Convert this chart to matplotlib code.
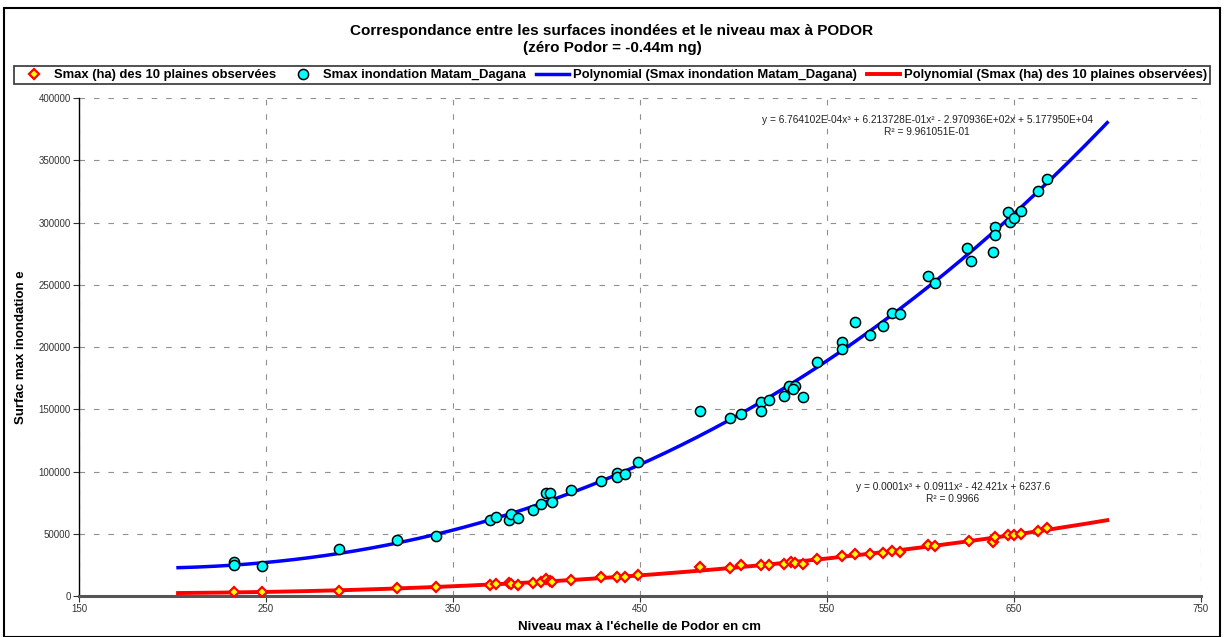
import numpy as np
import matplotlib
matplotlib.use('Agg')
import matplotlib.pyplot as plt
from matplotlib.patches import Rectangle

plt.rcParams['font.family'] = ['Liberation Sans', 'DejaVu Sans']

# Smax inondation Matam_Dagana (cyan points)
niveau_md = [233, 233, 248, 289, 320, 341, 370, 373, 380, 381, 385, 393, 397, 400,
             402, 403, 413, 429, 438, 438, 442, 449, 482, 498, 504, 515, 515, 519,
             527, 530, 533, 532, 537, 545, 558, 558, 565, 573, 580, 585, 589, 604,
             608, 625, 627, 639, 640, 640, 647, 648, 650, 654, 663, 668]
smax_md = [26900, 25000, 24200, 37600, 45000, 48000, 60900, 63600, 61200, 65700,
           62500, 69400, 73700, 82500, 82500, 75300, 84800, 92300, 99200, 95800,
           97900, 107400, 148600, 142800, 146300, 155800, 148600, 157700, 160600,
           168600, 168600, 166400, 160100, 187700, 204200, 198100, 220400, 210000,
           217000, 227000, 226200, 257300, 251500, 279700, 269000, 276000, 296400,
           290300, 308700, 300200, 303900, 309200, 325400, 334700]

# Smax (ha) des 10 plaines observees (red diamonds)
niveau_pl = [233, 248, 289, 320, 341, 370, 373, 380, 381, 385, 393, 397, 400, 402,
             403, 413, 429, 438, 442, 449, 482, 498, 504, 515, 519, 527, 531, 533,
             537, 545, 558, 565, 573, 580, 585, 589, 604, 608, 626, 639, 640, 647,
             650, 654, 663, 668]
smax_pl = [3000, 3200, 4300, 6700, 7300, 9100, 9700, 10100, 9600, 8900, 10100, 10900,
           13300, 11700, 11000, 12800, 15200, 15200, 14900, 16800, 23000, 22400, 25000,
           24800, 25000, 25600, 26900, 26400, 25600, 30100, 32200, 34000, 33600, 34800,
           36200, 35600, 41200, 40400, 44200, 43600, 47600, 49200, 48700, 49800, 52400,
           54300]

# coefficients printed on the chart for the Matam_Dagana trendline
coef_md = [6.764102E-04, 6.213728E-01, -2.970936E+02, 5.177950E+04]
eq_md = 'y = 6.764102E-04x\u00b3 + 6.213728E-01x\u00b2 - 2.970936E+02x + 5.177950E+04'
r2_md = 'R\u00b2 = 9.961051E-01'
eq_pl = 'y = 0.0001x\u00b3 + 0.0911x\u00b2 - 42.421x + 6237.6'
r2_pl = 'R\u00b2 = 0.9966'

fig = plt.figure(figsize=(12.24, 6.37), dpi=100)
fig.patches.append(Rectangle((0.003, 0.0), 0.994, 0.988, transform=fig.transFigure,
                             fill=False, edgecolor='black', linewidth=1.5))
ax = fig.add_axes([0.0645, 0.0644, 0.9165, 0.7816])

xs = np.linspace(203, 700, 300)
coef_pl = np.polyfit(niveau_pl, smax_pl, 3)

l_md, = ax.plot(xs, np.polyval(coef_md, xs), color='#0000FF', linewidth=2.5, zorder=3,
                label='Polynomial (Smax inondation Matam_Dagana)')
l_pl, = ax.plot(xs, np.polyval(coef_pl, xs), color='#FF0000', linewidth=2.8, zorder=3,
                label='Polynomial (Smax (ha) des 10 plaines observées)')
p_pl, = ax.plot(niveau_pl, smax_pl, linestyle='none', marker='D', markersize=5.5,
                markerfacecolor='#FFFF00', markeredgecolor='#FF0000', markeredgewidth=1.6,
                zorder=4, label='Smax (ha) des 10 plaines observées')
p_md, = ax.plot(niveau_md, smax_md, linestyle='none', marker='o', markersize=7.3,
                markerfacecolor='#00FFFF', markeredgecolor='black', markeredgewidth=1.1,
                zorder=5, label='Smax inondation Matam_Dagana')

ax.set_xlim(150, 750)
ax.set_ylim(0, 400000)
ax.set_xticks(range(150, 751, 100))
ax.set_yticks(range(0, 400001, 50000))
ax.grid(True, linestyle=(0, (5, 8)), color='#909090', linewidth=0.8)
ax.set_axisbelow(True)
for s in ['top', 'right']:
    ax.spines[s].set_visible(False)
ax.spines['left'].set_color('black')
ax.spines['left'].set_linewidth(1.0)
ax.spines['bottom'].set_color('#555555')
ax.spines['bottom'].set_linewidth(2.2)
ax.tick_params(labelsize=7, colors='#333333', length=4, direction='out', pad=2)

ax.set_xlabel("Niveau max à l'échelle de Podor en cm", fontsize=9.5, fontweight='bold', labelpad=5)
ax.set_ylabel('Surfac max inondation e', fontsize=9.5, fontweight='bold', labelpad=8)

ax.text(0.756, 0.956, eq_md, transform=ax.transAxes, ha='center', va='center', fontsize=7.3, color='#222222')
ax.text(0.756, 0.932, r2_md, transform=ax.transAxes, ha='center', va='center', fontsize=7.3, color='#222222')
ax.text(0.779, 0.219, eq_pl, transform=ax.transAxes, ha='center', va='center', fontsize=7.3, color='#222222')
ax.text(0.779, 0.195, r2_pl, transform=ax.transAxes, ha='center', va='center', fontsize=7.3, color='#222222')

fig.text(0.5, 0.951, 'Correspondance entre les surfaces inondées et le niveau max à PODOR',
         ha='center', va='center', fontsize=11, fontweight='bold')
fig.text(0.5, 0.925, '(zéro Podor = -0.44m ng)', ha='center', va='center', fontsize=11, fontweight='bold')

leg = fig.legend(handles=[p_pl, p_md, l_md, l_pl], loc='center', bbox_to_anchor=(0.5, 0.882),
                 ncol=4, frameon=True, fancybox=False, edgecolor='black',
                 handlelength=2.5, handletextpad=0.3, columnspacing=0.8, borderpad=0.25,
                 borderaxespad=0, prop={'weight': 'bold', 'size': 9.4})
leg.get_frame().set_linewidth(1.2)

plt.savefig('out.png', dpi=100)
plt.close()
